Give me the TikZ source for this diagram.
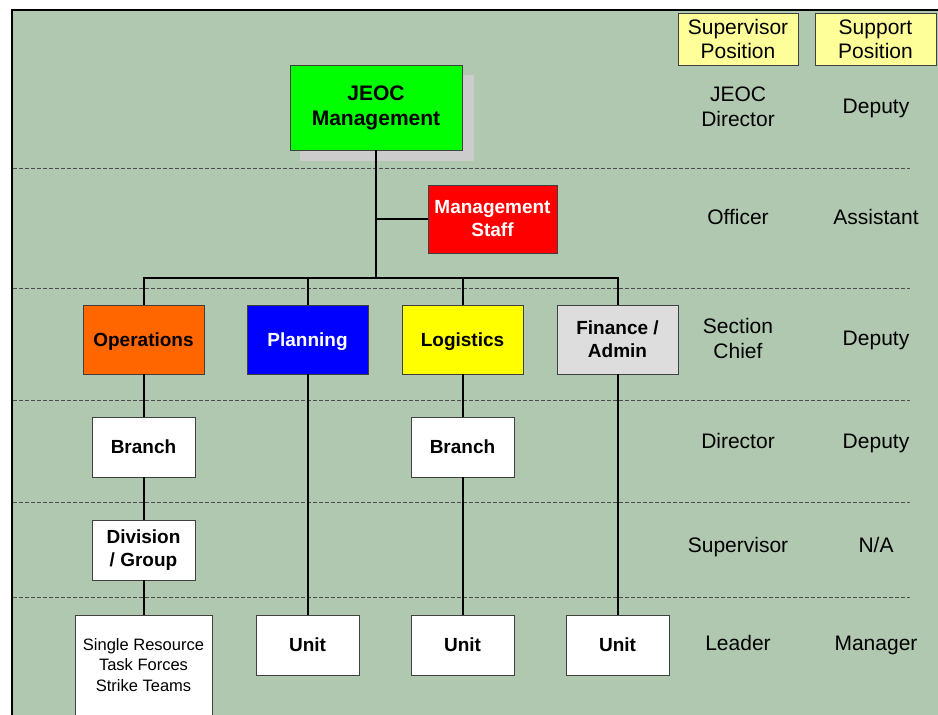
\documentclass[tikz,border=0pt]{standalone}
\usepackage{fontspec}
\setmainfont{Liberation Sans}
\definecolor{bg}{RGB}{176,200,176}
\definecolor{jgreen}{RGB}{0,255,0}
\definecolor{jred}{RGB}{255,0,0}
\definecolor{jorange}{RGB}{255,102,0}
\definecolor{jblue}{RGB}{0,0,255}
\definecolor{jyellow}{RGB}{255,255,0}
\definecolor{jgrey}{RGB}{221,221,221}
\definecolor{hdr}{RGB}{255,255,153}
\definecolor{shadowgrey}{RGB}{204,204,204}
\begin{document}
\begin{tikzpicture}[x=1pt,y=-1pt,
  box/.style={draw=black!75, line width=0.8pt, inner sep=0pt, align=center},
  bt/.style={font=\fontsize{19}{23}\selectfont\bfseries},
  one/.style={text height=13.6pt, text depth=0pt},
  col/.style={font=\fontsize{21}{25}\selectfont, align=center, inner sep=0pt},
  colone/.style={col, text height=15pt, text depth=2pt},
  conn/.style={line width=2pt, black},
  sepline/.style={draw=black!70, line width=0.8pt, dash pattern=on 4pt off 2pt}]
\useasboundingbox (0,0) rectangle (938,715);
\fill[white] (0,0) rectangle (938,715);
\fill[bg] (11.5,10) rectangle (950,730);
\draw[line width=2pt] (11.5,730) -- (11.5,10) -- (950,10);
% separators
\foreach \yy in {168,288.5,400,502.5,597.5}
  \draw[sepline] (13,\yy) -- (910,\yy);
% shadow
\fill[shadowgrey] (300,75) rectangle (474,161);
% nodes
\node[box, fill=jgreen, minimum width=172, minimum height=85,
      font=\fontsize{21}{25}\selectfont\bfseries] (jeoc) at (376,107.5) {JEOC\\Management};
\node[box, bt, fill=jred, text=white, minimum width=129, minimum height=68] (staff) at (492.5,219) {Management\\Staff};
\node[box, bt, one, fill=jorange, minimum width=121, minimum height=69] (ops) at (143.5,339.5) {Operations};
\node[box, bt, one, fill=jblue, text=white, minimum width=121, minimum height=69] (plan) at (307.5,339.5) {Planning};
\node[box, bt, one, fill=jyellow, minimum width=121, minimum height=69] (logi) at (462.5,339.5) {Logistics};
\node[box, bt, fill=jgrey, minimum width=121, minimum height=69] (fin) at (617.5,339.5) {Finance /\\Admin};
\node[box, bt, one, fill=white, minimum width=103, minimum height=60] (br1) at (143.5,447) {Branch};
\node[box, bt, one, fill=white, minimum width=103, minimum height=60] (br2) at (462.5,447) {Branch};
\node[box, bt, fill=white, minimum width=103, minimum height=60] (div) at (143.5,550) {Division\\/ Group};
\node[box, fill=white, minimum width=137, minimum height=130] (sr) at (143.5,680) {};
\node[align=center, inner sep=0pt, font=\fontsize{16.5}{20.5}\selectfont] (srtext) at (143.5,665) {Single Resource\\Task Forces\\Strike Teams};
\node[box, bt, one, fill=white, minimum width=103, minimum height=60] (u1) at (307.5,645) {Unit};
\node[box, bt, one, fill=white, minimum width=103, minimum height=60] (u2) at (462.5,645) {Unit};
\node[box, bt, one, fill=white, minimum width=103, minimum height=60] (u3) at (617.5,645) {Unit};
% connectors
\coordinate (bus) at (376,278);
\coordinate (stafftap) at (376,219);
\draw[conn] (jeoc.south) -- (bus);
\draw[conn] (stafftap) -- (staff.west);
\draw[conn] (ops.north) |- (bus);
\draw[conn] (fin.north) |- (bus);
\draw[conn] (plan.north) -- (plan.north |- bus);
\draw[conn] (logi.north) -- (logi.north |- bus);
\draw[conn] (ops.south) -- (br1.north);
\draw[conn] (br1.south) -- (div.north);
\draw[conn] (div.south) -- (sr.north);
\draw[conn] (plan.south) -- (u1.north);
\draw[conn] (logi.south) -- (br2.north);
\draw[conn] (br2.south) -- (u2.north);
\draw[conn] (fin.south) -- (u3.north);
% header boxes
\node[box, fill=hdr, minimum width=120, minimum height=52, font=\fontsize{21}{24}\selectfont] (hsup) at (738,39) {Supervisor\\Position};
\node[box, fill=hdr, minimum width=121, minimum height=52, font=\fontsize{21}{24}\selectfont] (hsupp) at (875.5,39) {Support\\Position};
% column texts
\node[col] (c1a) at (738,107) {JEOC\\Director};
\node[colone] (c1b) at (876,107) {Deputy};
\node[colone] (c2a) at (738,218) {Officer};
\node[colone] (c2b) at (876,218) {Assistant};
\node[col] (c3a) at (738,338.5) {Section\\Chief};
\node[colone] (c3b) at (876,339) {Deputy};
\node[colone] (c4a) at (738,442) {Director};
\node[colone] (c4b) at (876,442) {Deputy};
\node[colone] (c5a) at (738,546) {Supervisor};
\node[colone] (c5b) at (876,546) {N/A};
\node[colone] (c6a) at (738,644) {Leader};
\node[colone] (c6b) at (876,644) {Manager};
\end{tikzpicture}
\end{document}
